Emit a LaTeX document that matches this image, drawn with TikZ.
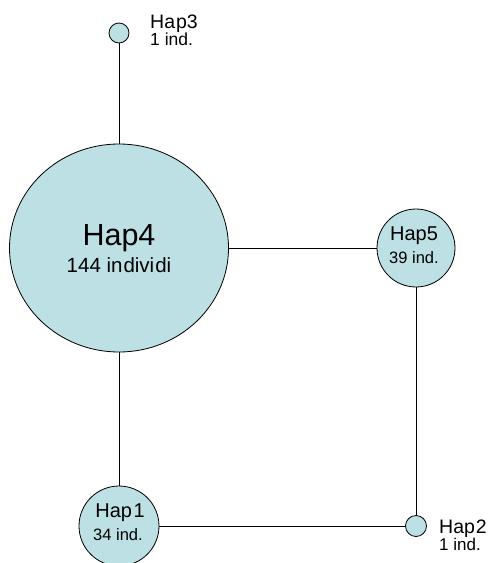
\documentclass[tikz,border=0pt]{standalone}
\usepackage{fontspec}
\setmainfont{Liberation Sans}
\usetikzlibrary{shapes.geometric}
\definecolor{hapfill}{RGB}{188,224,228}
\tikzset{
  hap/.style={draw=black, fill=hapfill, line width=0.8pt, inner sep=0pt},
  link/.style={draw=black, line width=0.8pt},
  lbl/.style={inner sep=0pt, anchor=base}
}
\begin{document}
\begin{tikzpicture}[x=1pt,y=-1pt]
\useasboundingbox (0,0) rectangle (490,563);
% nodes
\node[hap, ellipse, minimum width=219pt, minimum height=208pt] (h4) at (119,248) {};
\node[hap, circle, minimum size=20pt] (h3) at (119,33) {};
\node[hap, circle, minimum width=78pt] (h5) at (416,248) {};
\node[hap, circle, minimum size=80pt] (h1) at (119,526) {};
\node[hap, circle, minimum size=21pt] (h2) at (416,526) {};
% connectors
\draw[link] (h3) -- (h4);
\draw[link] (h4) -- (h1);
\draw[link] (h4) -- (h5);
\draw[link] (h5) -- (h2);
\draw[link] (h1) -- (h2);
% labels
\node[lbl, font=\fontsize{30.5}{32}\selectfont] (t4a) at (119,245) {Hap4};
\node[lbl, font=\fontsize{20.5}{22}\selectfont] (t4b) at (119,272) {144 in\kern1pt divi\kern1pt di};
\node[lbl, font=\fontsize{20}{22}\selectfont] (t5a) at (414,240) {Hap5};
\node[lbl, font=\fontsize{16.5}{18}\selectfont] (t5b) at (414,263) {39 ind.};
\node[lbl, font=\fontsize{20}{22}\selectfont] (t1a) at (120,517) {Hap\kern1.5pt 1};
\node[lbl, font=\fontsize{16.5}{18}\selectfont] (t1b) at (118,540) {34 ind.};
\node[lbl, anchor=base west, font=\fontsize{19.5}{22}\selectfont] (t3a) at (150,28) {Ha\kern1pt p3};
\node[lbl, anchor=base west, font=\fontsize{17.5}{20}\selectfont] (t3b) at (150,45) {1 ind.};
\node[lbl, anchor=base west, font=\fontsize{19.5}{22}\selectfont] (t2a) at (439,533) {Hap\kern1pt 2};
\node[lbl, anchor=base west, font=\fontsize{17}{19}\selectfont] (t2b) at (439,550) {1 ind.};
\end{tikzpicture}
\end{document}
